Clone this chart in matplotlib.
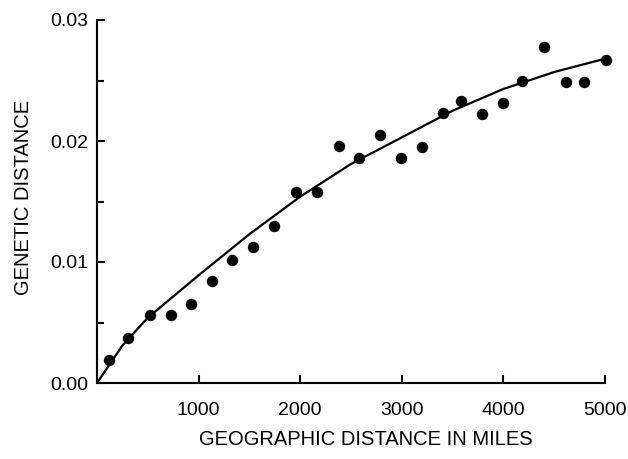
"""
Genetic distance vs geographic distance (scatter with fitted curve)
"""
import matplotlib.pyplot as plt
from matplotlib.ticker import MultipleLocator, FixedLocator

plt.rcParams["font.family"] = ["Liberation Sans", "DejaVu Sans"]

# observed points (miles, genetic distance)
miles = [120, 305, 520, 730, 925, 1130, 1330, 1535, 1740, 1960, 2165, 2380,
         2580, 2785, 2990, 3200, 3405, 3585, 3790, 3995, 4185, 4400, 4615,
         4795, 5010]
gen_dist = [0.0019, 0.0037, 0.0056, 0.0056, 0.0065, 0.0084, 0.0102, 0.0112,
            0.0130, 0.0158, 0.0158, 0.0196, 0.0186, 0.0205, 0.0186, 0.0195,
            0.0223, 0.0233, 0.0222, 0.0231, 0.0250, 0.0278, 0.0249, 0.0249,
            0.0267]

# fitted curve
curve_miles = [0, 250, 500, 1000, 1500, 2000, 2500, 3000, 3500, 4000, 4500, 5000]
curve_dist = [0.0, 0.0031, 0.0054, 0.0089, 0.0123, 0.0154, 0.0181, 0.0203,
              0.0225, 0.0243, 0.0257, 0.0268]

x_ticks = [1000, 2000, 3000, 4000, 5000]
y_ticks = [0.00, 0.01, 0.02, 0.03]

fig = plt.figure(figsize=(6.28, 4.59), dpi=100)
ax = fig.add_axes([97 / 628, 76 / 459, 508 / 628, 363 / 459])

ax.plot(curve_miles, curve_dist, color="black", lw=1.6, solid_capstyle="round")
ax.plot(miles, gen_dist, "o", color="black", ms=7.2, clip_on=False)

ax.set_xlim(0, 5000)
ax.set_ylim(0, 0.03)

ax.spines["top"].set_visible(False)
ax.spines["right"].set_visible(False)
for side in ("left", "bottom"):
    ax.spines[side].set_linewidth(1.5)

ax.xaxis.set_major_locator(FixedLocator(x_ticks))
ax.set_xticklabels([str(t) for t in x_ticks])
ax.yaxis.set_major_locator(FixedLocator(y_ticks))
ax.set_yticklabels([f"{t:.2f}" for t in y_ticks])
ax.yaxis.set_minor_locator(MultipleLocator(0.005))

ax.tick_params(axis="x", direction="in", length=6, width=1.5, pad=14, labelsize=14)
ax.tick_params(axis="y", which="major", direction="in", length=6, width=1.5,
               pad=6, labelsize=14)
ax.tick_params(axis="y", which="minor", direction="in", length=5, width=1.5)

ax.set_xlabel("GEOGRAPHIC DISTANCE IN MILES", fontsize=14.5)
ax.xaxis.set_label_coords(0.53, -0.13)
ax.set_ylabel("GENETIC DISTANCE", fontsize=14.5)
ax.yaxis.set_label_coords(-0.125, 0.51)

fig.savefig("out.png", dpi=100)
